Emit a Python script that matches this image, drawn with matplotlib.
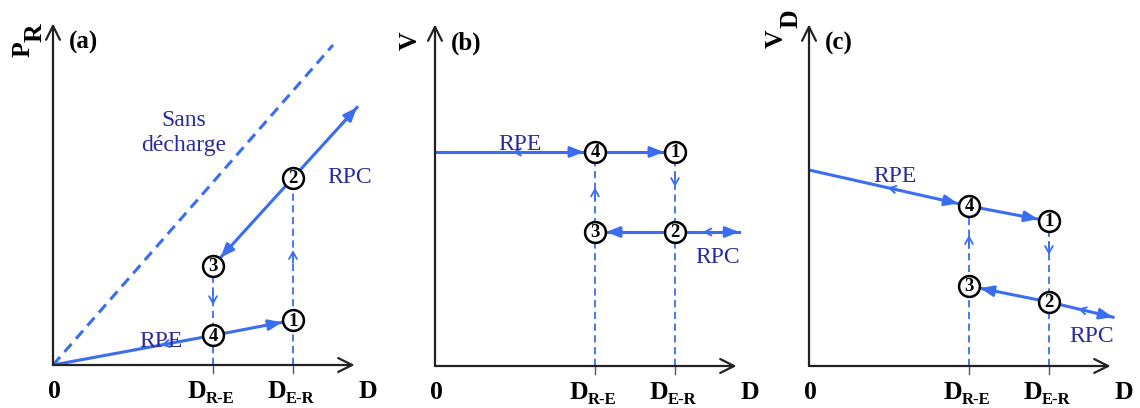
"""Schematic: P_R, V and V_D versus D with hysteresis cycles (a), (b), (c)."""
import numpy as np
import matplotlib.pyplot as plt

plt.rcParams['font.family'] = ['Liberation Serif', 'DejaVu Serif']

BLUE = '#3a6df0'
NAVY = '#2a2a9a'
AXC = '#222222'

# characteristic abscissae (shared by the three panels)
D_RE = 2.0
D_ER = 3.0
D_END = 3.8
X_AXIS_END = 3.77
Y_AXIS_END = 4.27

# panel (a) : P_R
a_pts_x = [D_ER, D_ER, D_RE, D_RE]          # points 1, 2, 3, 4
a_pts_y = [0.56, 2.34, 1.24, 0.37]
a_rpc_end = 3.22                            # P_R at D_END on RPC
a_sans_x = [0.0, 3.5]
a_sans_y = [0.0, 4.0]

# panel (b) : V
b_pts_x = [D_ER, D_ER, D_RE, D_RE]
b_pts_y = [2.675, 1.675, 1.675, 2.675]
b_rpe_start = 2.675
b_rpc_end = 1.675

# panel (c) : V_D
c_pts_x = [D_ER, D_ER, D_RE, D_RE]
c_pts_y = [1.81, 0.80, 1.00, 2.00]
c_rpe_start = 2.45
c_rpc_end = 0.61

PX = 80.0           # pixels per data unit
R_CIRC = 0.14       # circle radius in data units


def make_axes(fig, ox, oy):
    w, h = 4.2, 4.55
    ax = fig.add_axes([ox / 1140, (408 - oy) / 408, w * PX / 1140, h * PX / 408])
    ax.set_xlim(0, w)
    ax.set_ylim(0, h)
    ax.set_facecolor('none')
    ax.axis('off')
    return ax


def head(ax, tip, tail, style='-|>,head_length=0.8,head_width=0.32', lw=2.0, color=BLUE):
    ax.annotate('', xy=tip, xytext=tail,
                arrowprops=dict(arrowstyle=style, color=color, lw=lw,
                                shrinkA=0, shrinkB=0), annotation_clip=False)


def head_to_circle(ax, center, frm):
    c = np.array(center)
    f = np.array(frm)
    u = (c - f) / np.linalg.norm(c - f)
    tip = c - u * R_CIRC
    head(ax, tuple(tip), tuple(tip - u * 0.2))


def mid_head(ax, p, direction):
    u = np.array(direction) / np.linalg.norm(direction)
    p = np.array(p)
    head(ax, tuple(p + u * 0.05), tuple(p - u * 0.1),
         style='->,head_length=0.45,head_width=0.25', lw=1.4)


def dash_head(ax, x, y, up):
    d = 1 if up else -1
    head(ax, (x, y + d * 0.06), (x, y - d * 0.1),
         style='->,head_length=0.5,head_width=0.28', lw=1.3)


def frame(ax, ylab, ysub, lab_pos, sub_pos, panel):
    head(ax, (X_AXIS_END, 0), (0, 0), style='->,head_length=1.0,head_width=0.5',
         lw=1.6, color=AXC)
    head(ax, (0, Y_AXIS_END), (0, 0), style='->,head_length=1.0,head_width=0.5',
         lw=1.6, color=AXC)
    for x in (D_RE, D_ER):
        ax.plot([x, x], [0, -0.1], color='#555555', lw=1.0, clip_on=False)
    ax.annotate('0', xy=(0, 0), xytext=(1, -24), textcoords='offset points',
                ha='center', va='baseline', fontsize=18.5, fontweight='bold')
    ax.annotate('D', xy=(3.93, 0), xytext=(0, -24), textcoords='offset points',
                ha='center', va='baseline', fontsize=18.5, fontweight='bold')
    for x, sub in ((D_RE, 'R-E'), (D_ER, 'E-R')):
        ax.annotate('D', xy=(x, 0), xytext=(-5, -24), textcoords='offset points',
                    ha='right', va='baseline', fontsize=18.5, fontweight='bold')
        ax.annotate(sub, xy=(x, 0), xytext=(-5, -27.5), textcoords='offset points',
                    ha='left', va='baseline', fontsize=12, fontweight='bold')
    ax.text(lab_pos[0], lab_pos[1], ylab, rotation=90, rotation_mode='anchor',
            ha='left', va='baseline', fontsize=18.5, fontweight='bold')
    if ysub:
        ax.text(sub_pos[0], sub_pos[1], ysub, rotation=90, rotation_mode='anchor',
                ha='left', va='baseline', fontsize=18.5, fontweight='bold')
    ax.text(0.2, 3.95, panel, ha='left', va='baseline', fontsize=18, fontweight='bold')


def circles(ax, xs, ys):
    for i, (x, y) in enumerate(zip(xs, ys)):
        ax.plot(x, y, 'o', ms=15, mfc='white', mec='black', mew=1.8, zorder=5,
                clip_on=False)
        ax.text(x, y - 0.01, str(i + 1), ha='center', va='center', fontsize=13.5,
                fontweight='bold', zorder=6)


def dashed_verticals(ax, xs, ys):
    # xs/ys: tops of the two vertical guides at D_RE and D_ER
    for x, top in zip(xs, ys):
        ax.plot([x, x], [0, top], color=BLUE, lw=1.3, ls=(0, (4, 2.5)), zorder=2)


fig = plt.figure(figsize=(11.4, 4.08), dpi=100)

# ---------------- (a) ----------------
ax = make_axes(fig, 53, 365)
frame(ax, 'P', 'R', (-0.29, 3.85), (-0.14, 4.04), '(a)')
ax.plot(a_sans_x, a_sans_y, color=BLUE, lw=2.2, ls=(0, (3.5, 2.2)))
dashed_verticals(ax, [D_RE, D_ER], [a_pts_y[2], a_pts_y[1]])
dash_head(ax, D_RE, 0.81, up=False)
dash_head(ax, D_ER, 1.375, up=True)
# RPE
ax.plot([0, a_pts_x[3], a_pts_x[0]], [0, a_pts_y[3], a_pts_y[0]], color=BLUE, lw=2.2)
head_to_circle(ax, (a_pts_x[0], a_pts_y[0]), (a_pts_x[3], a_pts_y[3]))
mid_head(ax, (1.4, 1.4 * a_pts_y[3] / D_RE), (-1, -a_pts_y[3] / D_RE))
# RPC
ax.plot([a_pts_x[2], D_END], [a_pts_y[2], a_rpc_end], color=BLUE, lw=2.2)
slope = (a_rpc_end - a_pts_y[2]) / (D_END - a_pts_x[2])
head(ax, (D_END, a_rpc_end), (D_END - 0.2, a_rpc_end - 0.2 * slope))
head_to_circle(ax, (a_pts_x[2], a_pts_y[2]), (a_pts_x[1], a_pts_y[1]))
circles(ax, a_pts_x, a_pts_y)
ax.text(1.63, 2.9, 'Sans\ndécharge', ha='center', va='center', fontsize=17,
        color=NAVY, linespacing=1.25)
ax.text(3.71, 2.275, 'RPC', ha='center', va='baseline', fontsize=17, color=NAVY)
ax.text(1.35, 0.225, 'RPE', ha='center', va='baseline', fontsize=17, color=NAVY)

# ---------------- (b) ----------------
ax = make_axes(fig, 435, 366)
frame(ax, 'V', None, (-0.225, 3.95), None, '(b)')
dashed_verticals(ax, [D_RE, D_ER], [b_pts_y[3], b_pts_y[0]])
dash_head(ax, D_RE, 2.17, up=True)
dash_head(ax, D_ER, 2.3, up=False)
ax.plot([0, b_pts_x[0]], [b_rpe_start, b_pts_y[0]], color=BLUE, lw=2.2)
head_to_circle(ax, (b_pts_x[3], b_pts_y[3]), (0, b_rpe_start))
head_to_circle(ax, (b_pts_x[0], b_pts_y[0]), (b_pts_x[3], b_pts_y[3]))
mid_head(ax, (1.02, b_rpe_start), (-1, 0))
ax.plot([b_pts_x[2], D_END], [b_pts_y[2], b_rpc_end], color=BLUE, lw=2.2)
head_to_circle(ax, (b_pts_x[2], b_pts_y[2]), (b_pts_x[1], b_pts_y[1]))
head(ax, (D_END, b_rpc_end), (D_END - 0.2, b_rpc_end))
mid_head(ax, (3.4, b_rpc_end), (-1, 0))
circles(ax, b_pts_x, b_pts_y)
ax.text(1.06, 2.7, 'RPE', ha='center', va='baseline', fontsize=17, color=NAVY)
ax.text(3.53, 1.29, 'RPC', ha='center', va='baseline', fontsize=17, color=NAVY)

# ---------------- (c) ----------------
ax = make_axes(fig, 809, 366)
frame(ax, 'V', 'D', (-0.325, 3.98), (-0.14, 4.22), '(c)')
dashed_verticals(ax, [D_RE, D_ER], [c_pts_y[3], c_pts_y[0]])
dash_head(ax, D_RE, 1.575, up=True)
dash_head(ax, D_ER, 1.45, up=False)
ax.plot([0, c_pts_x[3], c_pts_x[0]], [c_rpe_start, c_pts_y[3], c_pts_y[0]],
        color=BLUE, lw=2.2)
head_to_circle(ax, (c_pts_x[3], c_pts_y[3]), (0, c_rpe_start))
head_to_circle(ax, (c_pts_x[0], c_pts_y[0]), (c_pts_x[3], c_pts_y[3]))
s1 = (c_pts_y[3] - c_rpe_start) / D_RE
mid_head(ax, (1.03, c_rpe_start + 1.03 * s1), (-1, -s1))
ax.plot([c_pts_x[2], c_pts_x[1], D_END], [c_pts_y[2], c_pts_y[1], c_rpc_end],
        color=BLUE, lw=2.2)
head_to_circle(ax, (c_pts_x[2], c_pts_y[2]), (c_pts_x[1], c_pts_y[1]))
s2 = (c_rpc_end - c_pts_y[1]) / (D_END - c_pts_x[1])
head(ax, (D_END, c_rpc_end), (D_END - 0.2, c_rpc_end - 0.2 * s2))
mid_head(ax, (3.41, c_pts_y[1] + 0.41 * s2), (-1, -s2))
circles(ax, c_pts_x, c_pts_y)
ax.text(1.075, 2.3, 'RPE', ha='center', va='baseline', fontsize=17, color=NAVY)
ax.text(3.53, 0.3, 'RPC', ha='center', va='baseline', fontsize=17, color=NAVY)

fig.savefig('out.png', dpi=100)
